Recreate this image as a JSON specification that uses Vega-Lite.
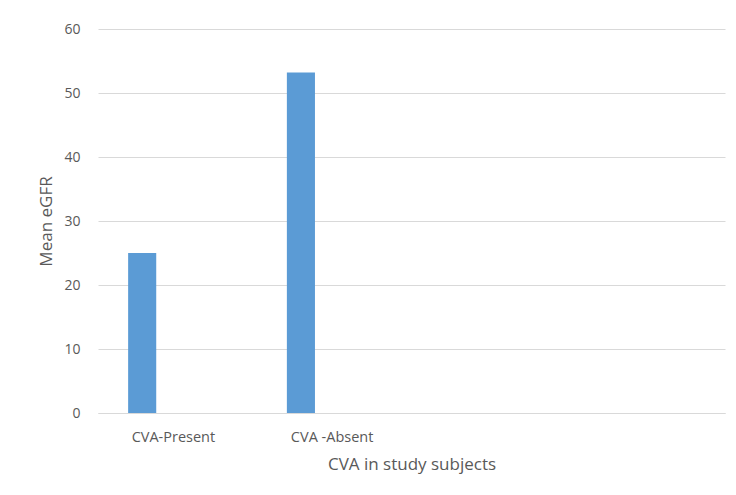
{
  "$schema": "https://vega.github.io/schema/vega-lite/v6.json",
  "width": 627,
  "height": 384,
  "autosize": {"type": "none"},
  "padding": {"left": 98, "top": 29, "right": 11, "bottom": 82},
  "background": "white",
  "data": {
    "values": [
      {"cva": "CVA-Present", "series": "Series 1", "egfr": 25},
      {"cva": "CVA -Absent", "series": "Series 1", "egfr": 53.2}
    ]
  },
  "mark": {"type": "bar", "color": "#5b9bd5"},
  "encoding": {
    "x": {
      "field": "cva",
      "type": "nominal",
      "sort": null,
      "scale": {"domain": ["CVA-Present", "CVA -Absent", "c3", "c4"], "paddingInner": 0.41, "paddingOuter": 0.18},
      "axis": {
        "title": "CVA in study subjects",
        "labelAngle": 0,
        "labelExpr": "datum.value == 'c3' || datum.value == 'c4' ? '' : datum.value",
        "labelFont": "Open Sans",
        "labelFontSize": 14.5,
        "labelColor": "#595959",
        "labelPadding": 17,
        "ticks": false,
        "domainColor": "#d9d9d9",
        "titleFont": "Open Sans",
        "titleFontSize": 17,
        "titleFontWeight": "normal",
        "titleColor": "#595959",
        "titlePadding": 13
      }
    },
    "xOffset": {
      "field": "series",
      "type": "nominal",
      "scale": {"domain": ["Series 1", "Series 2", "Series 3"], "paddingInner": 0.1, "paddingOuter": 0.05}
    },
    "y": {
      "field": "egfr",
      "type": "quantitative",
      "scale": {"domain": [0, 60]},
      "axis": {
        "title": "Mean eGFR",
        "values": [0, 10, 20, 30, 40, 50, 60],
        "grid": true,
        "gridColor": "#d9d9d9",
        "domain": false,
        "ticks": false,
        "labelFont": "Open Sans",
        "labelFontSize": 14,
        "labelColor": "#595959",
        "labelPadding": 18,
        "titleFont": "Open Sans",
        "titleFontSize": 17,
        "titleFontWeight": "normal",
        "titleColor": "#595959",
        "titlePadding": 8
      }
    }
  },
  "config": {
    "view": {"stroke": null},
    "axis": {"gridWidth": 1}
  }
}
